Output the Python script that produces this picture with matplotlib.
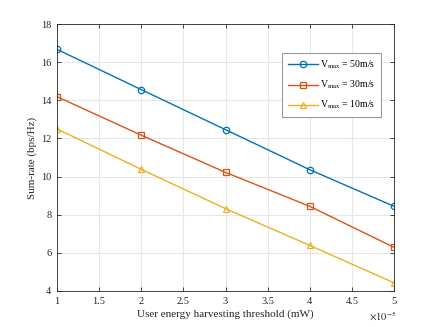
import matplotlib
matplotlib.use("Agg")
import matplotlib.pyplot as plt

plt.rcParams['font.family'] = ['Liberation Serif', 'DejaVu Serif']
plt.rcParams['mathtext.fontset'] = 'stix'

x = [1, 2, 3, 4, 5]  # in units of 1e-5 mW
v50 = [16.67, 14.56, 12.46, 10.36, 8.44]
v30 = [14.19, 12.17, 10.22, 8.44, 6.29]
v10 = [12.50, 10.38, 8.32, 6.39, 4.43]
labels = [r'V$_{\mathrm{max}}$ = 50m/s', r'V$_{\mathrm{max}}$ = 30m/s', r'V$_{\mathrm{max}}$ = 10m/s']
xticks = [1, 1.5, 2, 2.5, 3, 3.5, 4, 4.5, 5]
xticklabels = ['1', '1.5', '2', '2.5', '3', '3.5', '4', '4.5', '5']
yticks = [4, 6, 8, 10, 12, 14, 16, 18]
colors = ['#0072BD', '#D95319', '#EDB120']
markers = ['o', 's', '^']

fig = plt.figure(figsize=(4.36, 3.27), dpi=100)
ax = fig.add_axes([57/436, 1 - 291/327, (394 - 57)/436, (291 - 24)/327])

for ys, c, m, lab in zip([v50, v30, v10], colors, markers, labels):
    ax.plot(x, ys, color=c, marker=m, markersize=4.6, markerfacecolor='none',
            markeredgewidth=0.9, linewidth=1.0, label=lab)

ax.set_xlim(1, 5)
ax.set_ylim(4, 18)
ax.set_xticks(xticks)
ax.set_xticklabels(xticklabels)
ax.set_yticks(yticks)

ax.grid(True, color='#e6e6e6', linewidth=0.8)
ax.set_axisbelow(True)
ax.tick_params(direction='in', length=3, width=0.6, colors='#262626', labelsize=7.5,
               top=True, right=True, pad=4)
for s in ax.spines.values():
    s.set_color('#262626')
    s.set_linewidth(0.6)

ax.set_xlabel('User energy harvesting threshold (mW)', fontsize=8, color='#262626', labelpad=3)
ax.set_ylabel('Sum-rate (bps/Hz)', fontsize=8, color='#262626', labelpad=3)
fig.text(396/436, 1 - 316/327, r'$\times10^{-5}$', fontsize=7.5, color='#262626',
         ha='right', va='center')

leg = ax.legend(loc='upper left', bbox_to_anchor=((282 - 57)/337, 1 - (53 - 24)/267),
                borderaxespad=0, fontsize=7, fancybox=False, edgecolor='#808080', framealpha=1,
                borderpad=0.6, labelspacing=0.78, handlelength=3.1, handletextpad=0.25)
leg.get_frame().set_linewidth(0.6)

fig.savefig('out.png', dpi=100)
